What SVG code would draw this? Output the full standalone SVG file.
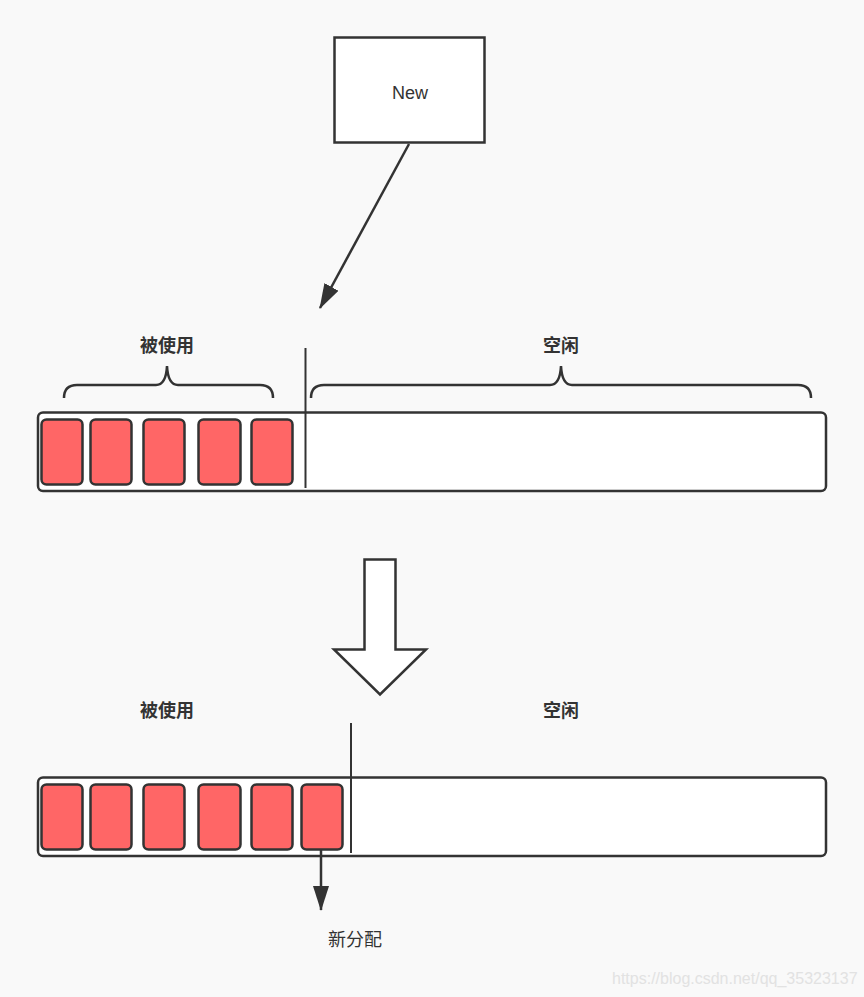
<svg xmlns="http://www.w3.org/2000/svg" width="864" height="997" viewBox="0 0 864 997">
<defs>
<style>
.bg{fill:#f9f9f9}
.box{fill:#fff;stroke:#333;stroke-width:2.5}
.bar{fill:#fff;stroke:#333;stroke-width:2.5}
.blk{fill:#ff6666;stroke:#333;stroke-width:2.5}
.ln{fill:none;stroke:#333;stroke-width:2.5}
.div{fill:none;stroke:#333;stroke-width:2}
.lbl{font-family:"Liberation Sans","Noto Sans CJK SC",sans-serif;font-size:18px;font-weight:bold;fill:#333;text-anchor:middle}
.txt{font-family:"Liberation Sans","Noto Sans CJK SC",sans-serif;font-size:18px;fill:#333;text-anchor:middle}
.wm{font-family:"Liberation Sans",sans-serif;font-size:16px;fill:#e2e2e2}
</style>
<marker id="ah" viewBox="0 0 25 16" refX="24" refY="8" markerWidth="10" markerHeight="6.4" markerUnits="strokeWidth" orient="auto">
<path d="M0,0 L25,8 L0,16 z" fill="#333"/>
</marker>
</defs>
<rect class="bg" x="0" y="0" width="864" height="997"/>

<g id="new-node">
<rect class="box" x="334.5" y="37.5" width="150" height="105"/>
<text class="txt" x="410" y="99">New</text>
</g>

<g id="used-label-top"><text class="lbl" x="167" y="352">被使用</text></g>
<g id="free-label-top"><text class="lbl" x="561" y="352">空闲</text></g>

<g id="brace-left"><path class="ln" d="M64,398 Q64,385 77,385 L156,385 Q166,385 167,366 Q168,385 178,385 L260,385 Q273,385 273,398"/></g>
<g id="brace-right"><path class="ln" d="M311,398 Q311,385 324,385 L550,385 Q560,385 561,366 Q562,385 572,385 L798,385 Q811,385 811,398"/></g>

<g id="top-bar">
<rect class="bar" x="38" y="412.5" width="788" height="78.5" rx="5"/>
<rect class="blk" x="41.5" y="419.5" width="41" height="65" rx="5"/>
<rect class="blk" x="90.5" y="419.5" width="41" height="65" rx="5"/>
<rect class="blk" x="143.5" y="419.5" width="41" height="65" rx="5"/>
<rect class="blk" x="198.5" y="419.5" width="42" height="65" rx="5"/>
<rect class="blk" x="251.5" y="419.5" width="41" height="65" rx="5"/>
<line class="div" x1="305.5" y1="348" x2="305.5" y2="488"/>
</g>

<g id="transition-arrow">
<path class="box" d="M364.5,559.5 L395.5,559.5 L395.5,649.5 L426,649.5 L380,694.5 L334,649.5 L364.5,649.5 Z"/>
</g>

<g id="used-label-bottom"><text class="lbl" x="167" y="717">被使用</text></g>
<g id="free-label-bottom"><text class="lbl" x="561" y="717">空闲</text></g>

<g id="bottom-bar">
<rect class="bar" x="38" y="777.5" width="788" height="78.5" rx="5"/>
<rect class="blk" x="41.5" y="784.5" width="41" height="65" rx="5"/>
<rect class="blk" x="90.5" y="784.5" width="41" height="65" rx="5"/>
<rect class="blk" x="143.5" y="784.5" width="41" height="65" rx="5"/>
<rect class="blk" x="198.5" y="784.5" width="42" height="65" rx="5"/>
<rect class="blk" x="251.5" y="784.5" width="41" height="65" rx="5"/>
<rect class="blk" x="301.5" y="784.5" width="41" height="65" rx="5"/>
<line class="div" x1="351" y1="723" x2="351" y2="853"/>
</g>

<g id="new-alloc-label"><text class="txt" x="355" y="946">新分配</text></g>

<g id="connectors">
<line class="ln" x1="409" y1="144" x2="320" y2="308" marker-end="url(#ah)"/>
<line class="ln" x1="321" y1="850" x2="321" y2="910" marker-end="url(#ah)"/>
</g>

<text class="wm" x="612" y="984">https://blog.csdn.net/qq_35323137</text>
</svg>
